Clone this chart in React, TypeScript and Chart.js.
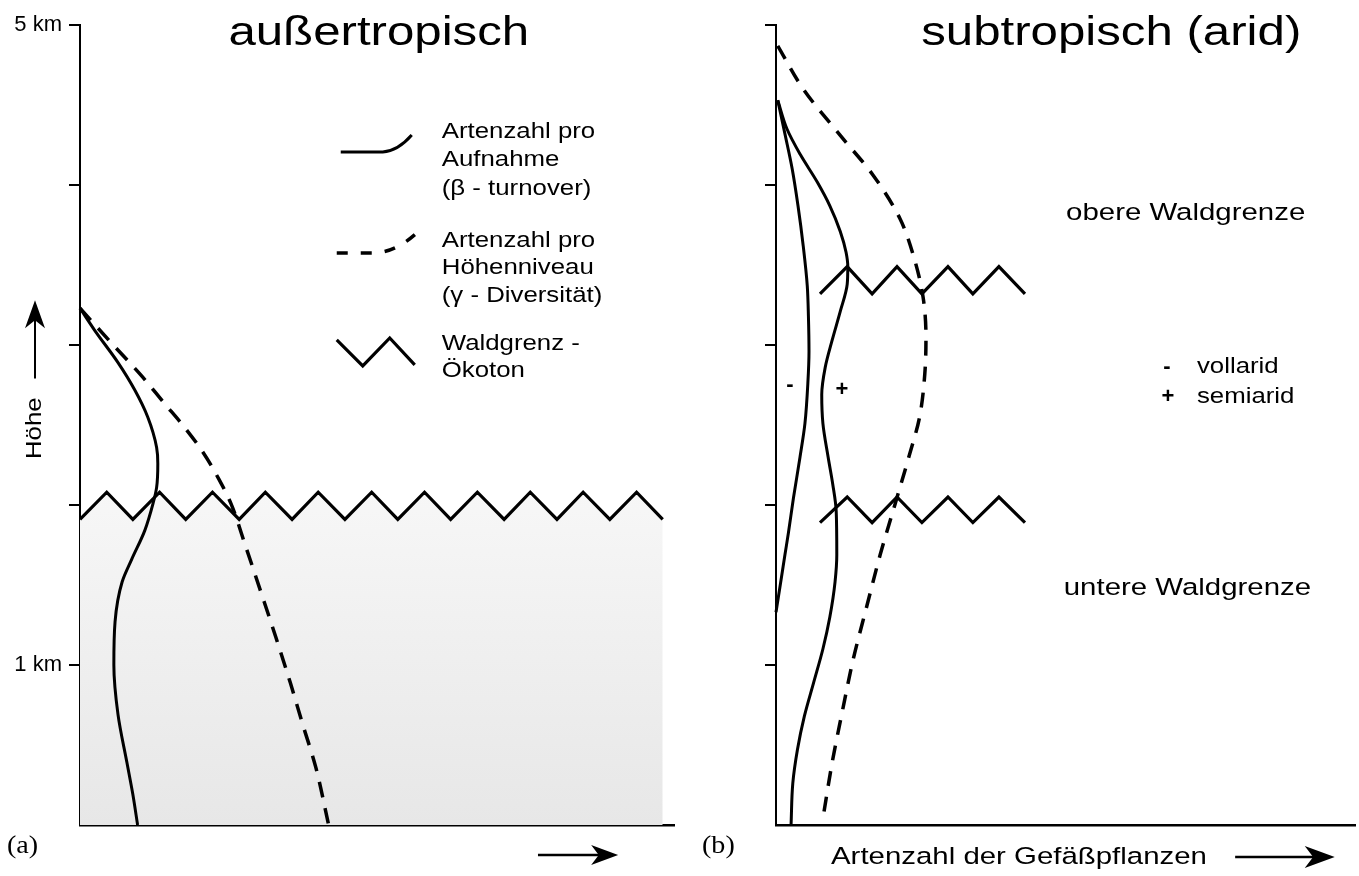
import React, { useEffect, useRef } from 'react';
import { Chart, registerables } from 'chart.js';

Chart.register(...registerables);

const SANS = '"Liberation Sans", Arial, Helvetica, sans-serif';
const SERIF = '"Liberation Serif", "Times New Roman", serif';

// ---------- height axis (km) ----------
const heightTicksKm = [0, 1, 2, 3, 4, 5];
const heightTickLabelsA = ['', '1 km', '', '', '', '5 km'];
const heightTickLabelsB = ['', '', '', '', '', ''];

// ---------- panel (a): außertropisch ----------
const betaA_x = [0, 2.5, 6.4, 9.2, 11.4, 12.9, 13.1, 12.9, 12.3, 10.9, 8.7, 7.1, 5.9, 5.7, 6.4, 7.9, 8.9, 9.7];
const betaA_y = [3.23, 3.09, 2.89, 2.72, 2.55, 2.36, 2.26, 2.11, 2.01, 1.84, 1.66, 1.52, 1.27, 1.0, 0.69, 0.39, 0.19, 0.0];

const gammaA_x = [0, 5.6, 10.3, 14.1, 17.5, 20.7, 23.4, 25.4, 27.9, 30.6, 33.0, 35.4, 37.4, 39.7, 41.8];
const gammaA_y = [3.23, 3.0, 2.81, 2.64, 2.49, 2.33, 2.16, 2.01, 1.74, 1.44, 1.17, 0.89, 0.64, 0.36, 0.01];

const treelineA_x = [0, 4.5, 8.9, 13.4, 17.8, 22.3, 26.8, 31.2, 35.7, 40.1, 44.6, 49.1, 53.5, 58.0, 62.4, 66.9, 71.4, 75.8, 80.3, 84.7, 89.2, 93.7, 98.1];
const treelineA_y = [1.91, 2.08, 1.91, 2.08, 1.91, 2.08, 1.91, 2.08, 1.91, 2.08, 1.91, 2.08, 1.91, 2.08, 1.91, 2.08, 1.91, 2.08, 1.91, 2.08, 1.91, 2.08, 1.91];

// ---------- panel (b): subtropisch (arid) ----------
const gammaB_x = [0.3, 4.7, 11.1, 16.8, 21.4, 23.8, 25.4, 25.9, 25.7, 24.8, 23.1, 20.6, 18.0, 15.7, 13.3, 11.4, 9.7, 8.1];
const gammaB_y = [4.87, 4.6, 4.31, 4.06, 3.79, 3.55, 3.3, 3.05, 2.82, 2.55, 2.32, 2.01, 1.69, 1.37, 1.03, 0.7, 0.39, 0.04];

const semiaridB_x = [0.3, 1.9, 4.2, 7.1, 9.3, 11.1, 12.1, 12.4, 12.3, 11.1, 9.7, 8.5, 7.9, 8.1, 9.0, 9.8, 10.4, 10.5, 10.2, 9.3, 8.1, 6.5, 4.9, 3.7, 2.9, 2.6];
const semiaridB_y = [4.53, 4.35, 4.19, 4.02, 3.87, 3.71, 3.58, 3.49, 3.38, 3.21, 3.03, 2.86, 2.69, 2.51, 2.3, 2.13, 1.96, 1.69, 1.52, 1.3, 1.1, 0.89, 0.68, 0.47, 0.26, 0.0];

const vollaridB_x = [0.3, 1.6, 2.8, 3.8, 4.7, 5.4, 5.6, 5.7, 5.5, 5.0, 4.15, 3.0, 2.16, 1.55, 0.95, 0.43, 0.0];
const vollaridB_y = [4.53, 4.31, 4.1, 3.87, 3.62, 3.37, 3.18, 2.96, 2.76, 2.51, 2.3, 2.04, 1.83, 1.69, 1.55, 1.43, 1.33];

const treelineB_x = [7.6, 12.3, 16.6, 20.9, 25.2, 29.7, 34.0, 38.5, 43.0];
const upperTreelineB_y = [3.32, 3.49, 3.32, 3.49, 3.32, 3.49, 3.32, 3.49, 3.32];
const lowerTreelineB_y = [1.89, 2.05, 1.89, 2.05, 1.89, 2.05, 1.89, 2.05, 1.89];

// ---------- texts ----------
const titleA = 'außertropisch';
const titleB = 'subtropisch (arid)';
const legendLinesA = ['Artenzahl pro', 'Aufnahme', '(β - turnover)', 'Artenzahl pro', 'Höhenniveau', '(γ - Diversität)', 'Waldgrenz -', 'Ökoton'];
const heightLabel = 'Höhe';
const xAxisLabelB = 'Artenzahl der Gefäßpflanzen';
const panelLabels = ['(a)', '(b)'];
const zoneLabelsB = ['obere Waldgrenze', 'untere Waldgrenze'];
const aridityMarks = ['-', '+'];
const aridityNames = ['vollarid', 'semiarid'];

// ---------- layout (positions, not data) ----------
const LEGEND_OFFSETS = [0, 28.5, 57, 109, 136.5, 164, 212, 239];

const pts = (xs: number[], ys: number[]) => xs.map((x, i) => ({ x, y: ys[i] }));

type TOpts = {
  size: number;
  family?: string;
  weight?: string;
  align?: CanvasTextAlign;
  baseline?: CanvasTextBaseline;
  sx?: number;
  rotate?: number;
};

function drawText(ctx: CanvasRenderingContext2D, text: string, x: number, y: number, o: TOpts) {
  ctx.save();
  ctx.translate(x, y);
  if (o.rotate) ctx.rotate(o.rotate);
  ctx.scale(o.sx ?? 1, 1);
  ctx.font = `${o.weight ?? 'normal'} ${o.size}px ${o.family ?? SANS}`;
  ctx.fillStyle = '#000';
  ctx.textAlign = o.align ?? 'left';
  ctx.textBaseline = o.baseline ?? 'alphabetic';
  ctx.fillText(text, 0, 0);
  ctx.restore();
}

function drawArrow(ctx: CanvasRenderingContext2D, x1: number, y1: number, x2: number, y2: number, head: number, half: number, lw: number) {
  const ang = Math.atan2(y2 - y1, x2 - x1);
  const len = Math.hypot(x2 - x1, y2 - y1);
  ctx.save();
  ctx.translate(x1, y1);
  ctx.rotate(ang);
  ctx.strokeStyle = '#000';
  ctx.fillStyle = '#000';
  ctx.lineWidth = lw;
  ctx.beginPath();
  ctx.moveTo(0, 0);
  ctx.lineTo(len - head * 0.6, 0);
  ctx.stroke();
  ctx.beginPath();
  ctx.moveTo(len, 0);
  ctx.lineTo(len - head, -half);
  ctx.lineTo(len - head * 0.72, 0);
  ctx.lineTo(len - head, half);
  ctx.closePath();
  ctx.fill();
  ctx.restore();
}

// smooth vertical profile (value along x as a function of height)
const curveDs = (label: string, xs: number[], ys: number[], extra: any = {}) => ({
  label,
  data: pts(xs, ys),
  indexAxis: 'y',
  cubicInterpolationMode: 'monotone',
  pointRadius: 0,
  pointHoverRadius: 0,
  borderColor: '#000',
  borderWidth: 3,
  fill: false,
  clip: 8,
  order: 1,
  ...extra,
});

const zigDs = (label: string, xs: number[], ys: number[], extra: any = {}) => ({
  label,
  data: pts(xs, ys),
  pointRadius: 0,
  pointHoverRadius: 0,
  borderColor: '#000',
  borderWidth: 3.2,
  borderJoinStyle: 'miter',
  tension: 0,
  fill: false,
  clip: 8,
  order: 1,
  ...extra,
});

function yScale(labels: string[], width: number) {
  return {
    type: 'linear',
    position: 'left',
    min: 0,
    max: 5,
    afterFit: (s: any) => {
      s.width = width;
    },
    ticks: {
      stepSize: 1,
      color: '#000',
      padding: 7,
      font: { family: SANS, size: 22 },
      callback: (v: any) => {
        const i = heightTicksKm.indexOf(Number(v));
        return i >= 0 ? labels[i] : '';
      },
    },
    grid: {
      display: true,
      drawOnChartArea: false,
      drawTicks: true,
      tickLength: 11,
      lineWidth: 2,
      color: (c: any) => (c.tick && c.tick.value === 0 ? 'rgba(0,0,0,0)' : '#000'),
      tickColor: (c: any) => (c.tick && c.tick.value === 0 ? 'rgba(0,0,0,0)' : '#000'),
    },
    border: { display: true, color: '#000', width: 2 },
  };
}

function xScale() {
  return {
    type: 'linear',
    position: 'bottom',
    min: 0,
    max: 100,
    afterFit: (s: any) => {
      s.height = 0;
    },
    ticks: { display: false },
    grid: { display: false, drawTicks: false },
    border: { display: true, color: '#000', width: 2.5 },
  };
}

const overlayA = {
  id: 'overlayA',
  afterDraw(chart: any) {
    const ctx: CanvasRenderingContext2D = chart.ctx;
    const xs = chart.scales.x;
    const ys = chart.scales.y;
    const area = chart.chartArea;
    const px = (v: number) => xs.getPixelForValue(v);
    const py = (v: number) => ys.getPixelForValue(v);

    drawText(ctx, titleA, px(50.3), py(4.875), { size: 41, align: 'center', sx: 1.2 });

    const ax = px(60.9);
    const ay = py(4.294);
    legendLinesA.forEach((t, i) => drawText(ctx, t, ax, ay + LEGEND_OFFSETS[i], { size: 21.5, sx: 1.2 }));

    ctx.save();
    ctx.strokeStyle = '#000';
    ctx.lineWidth = 3;
    ctx.beginPath();
    ctx.moveTo(ax - 101, ay + 14);
    ctx.lineTo(ax - 59, ay + 14);
    ctx.quadraticCurveTo(ax - 44, ay + 13, ax - 30, ay - 3);
    ctx.stroke();

    const a2 = ay + LEGEND_OFFSETS[3];
    ctx.lineWidth = 3.5;
    ctx.setLineDash([11, 13]);
    ctx.beginPath();
    ctx.moveTo(ax - 105, a2 + 6);
    ctx.lineTo(ax - 67, a2 + 6);
    ctx.quadraticCurveTo(ax - 46, a2 + 5, ax - 25, a2 - 14);
    ctx.stroke();
    ctx.setLineDash([]);

    const a3 = ay + LEGEND_OFFSETS[6];
    ctx.lineWidth = 3.2;
    ctx.lineJoin = 'miter';
    ctx.beginPath();
    ctx.moveTo(ax - 105, a3 - 10);
    ctx.lineTo(ax - 79, a3 + 16);
    ctx.lineTo(ax - 52, a3 - 12);
    ctx.lineTo(ax - 27, a3 + 15);
    ctx.stroke();
    ctx.restore();

    const hx = area.left - 45;
    drawArrow(ctx, hx, py(2.79), hx, py(3.28), 28, 10, 2);
    drawText(ctx, heightLabel, hx, py(2.48), { size: 21.5, align: 'center', baseline: 'middle', sx: 1.2, rotate: -Math.PI / 2 });

    drawArrow(ctx, px(77.1), area.bottom + 30, px(90.6), area.bottom + 30, 27, 10, 2.5);
    drawText(ctx, panelLabels[0], area.left - 73, area.bottom + 28, { size: 26, family: SERIF, sx: 1.08 });
  },
};

const overlayB = {
  id: 'overlayB',
  afterDraw(chart: any) {
    const ctx: CanvasRenderingContext2D = chart.ctx;
    const xs = chart.scales.x;
    const ys = chart.scales.y;
    const area = chart.chartArea;
    const px = (v: number) => xs.getPixelForValue(v);
    const py = (v: number) => ys.getPixelForValue(v);

    drawText(ctx, titleB, px(57.9), py(4.875), { size: 41, align: 'center', sx: 1.2 });

    drawText(ctx, zoneLabelsB[0], px(50.1), py(3.78), { size: 24.5, sx: 1.2 });
    drawText(ctx, zoneLabelsB[1], px(49.7), py(1.44), { size: 24.5, sx: 1.2 });

    drawText(ctx, aridityMarks[0], px(67.5), py(2.86), { size: 22, weight: 'bold', align: 'center', baseline: 'middle' });
    drawText(ctx, aridityNames[0], px(72.7), py(2.825), { size: 21.5, sx: 1.2 });
    drawText(ctx, aridityMarks[1], px(67.7), py(2.675), { size: 22, weight: 'bold', align: 'center', baseline: 'middle' });
    drawText(ctx, aridityNames[1], px(72.7), py(2.64), { size: 21.5, sx: 1.2 });

    drawText(ctx, aridityMarks[0], px(2.4), py(2.75), { size: 22, weight: 'bold', align: 'center', baseline: 'middle' });
    drawText(ctx, aridityMarks[1], px(11.4), py(2.72), { size: 22, weight: 'bold', align: 'center', baseline: 'middle' });

    drawText(ctx, xAxisLabelB, px(9.5), area.bottom + 39, { size: 24.5, sx: 1.2 });
    drawArrow(ctx, px(79.3), area.bottom + 32, px(96.5), area.bottom + 32, 30, 11, 2.5);
    drawText(ctx, panelLabels[1], area.left - 74, area.bottom + 28, { size: 26, family: SERIF, sx: 1.08 });
  },
};

function shadeColor(c: any) {
  const chart = c.chart;
  const area = chart.chartArea;
  if (!area) return '#efefef';
  const ys = chart.scales.y;
  const g = chart.ctx.createLinearGradient(0, ys.getPixelForValue(2.1), 0, area.bottom);
  g.addColorStop(0, '#f7f7f7');
  g.addColorStop(1, '#e7e7e7');
  return g;
}

const baseOptions = (labels: string[], yWidth: number, rightPad: number) => ({
  responsive: false,
  animation: false,
  events: [],
  layout: { padding: { left: 0, top: 25, right: rightPad, bottom: 51 } },
  plugins: { legend: { display: false }, tooltip: { enabled: false }, title: { display: false } },
  scales: { x: xScale(), y: yScale(labels, yWidth) },
});

function configA(): any {
  return {
    type: 'line',
    data: {
      datasets: [
        zigDs('shade', treelineA_x, treelineA_y, {
          borderWidth: 0,
          borderColor: 'rgba(0,0,0,0)',
          fill: 'origin',
          backgroundColor: shadeColor,
          order: 10,
          clip: 0,
        }),
        zigDs('Waldgrenz - Ökoton', treelineA_x, treelineA_y),
        curveDs('Artenzahl pro Aufnahme (β - turnover)', betaA_x, betaA_y),
        curveDs('Artenzahl pro Höhenniveau (γ - Diversität)', gammaA_x, gammaA_y, { borderDash: [16, 11], borderWidth: 3.5 }),
      ],
    },
    options: baseOptions(heightTickLabelsA, 80, 16),
    plugins: [overlayA],
  };
}

function configB(): any {
  return {
    type: 'line',
    data: {
      datasets: [
        zigDs('obere Waldgrenze', treelineB_x, upperTreelineB_y),
        zigDs('untere Waldgrenze', treelineB_x, lowerTreelineB_y),
        curveDs('vollarid', vollaridB_x, vollaridB_y),
        curveDs('semiarid', semiaridB_x, semiaridB_y),
        curveDs('γ - Diversität', gammaB_x, gammaB_y, { borderDash: [15, 11], borderWidth: 3.5 }),
      ],
    },
    options: baseOptions(heightTickLabelsB, 86, 4),
    plugins: [overlayB],
  };
}

export default function App() {
  const refA = useRef<HTMLCanvasElement>(null);
  const refB = useRef<HTMLCanvasElement>(null);

  useEffect(() => {
    Chart.defaults.font.family = SANS;
    const a = new Chart(refA.current as HTMLCanvasElement, configA());
    const b = new Chart(refB.current as HTMLCanvasElement, configB());
    return () => {
      a.destroy();
      b.destroy();
    };
  }, []);

  return (
    <div style={{ position: 'absolute', left: 0, top: 0, width: 1359, height: 876, background: '#fff', overflow: 'hidden' }}>
      <canvas ref={refA} width={690} height={876} style={{ position: 'absolute', left: 0, top: 0, width: 690, height: 876 }} />
      <canvas ref={refB} width={669} height={876} style={{ position: 'absolute', left: 690, top: 0, width: 669, height: 876 }} />
    </div>
  );
}
